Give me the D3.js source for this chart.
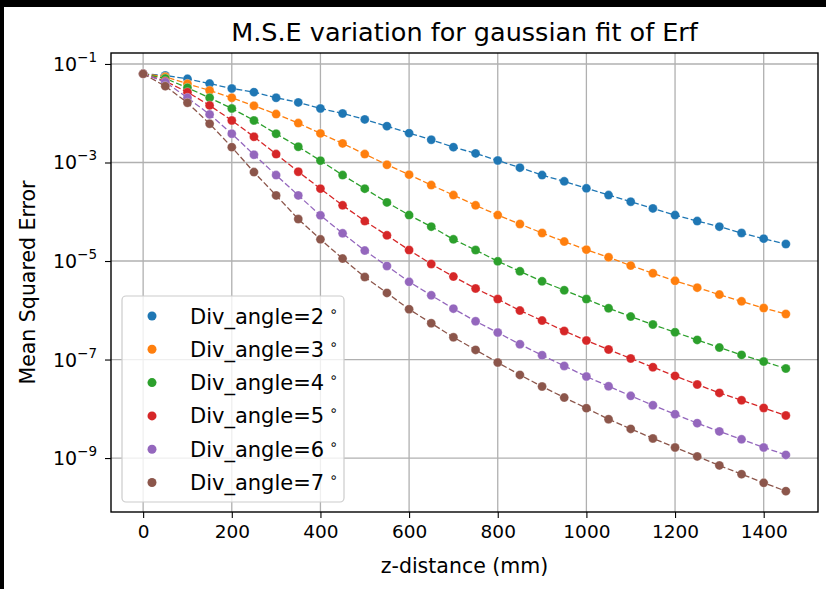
<!DOCTYPE html>
<html>
<head>
<meta charset="utf-8">
<script src="https://cdn.jsdelivr.net/npm/d3@7"></script>
<style>
  body { margin: 0; background: #000; }
  svg { display: block; font-family: "DejaVu Sans", sans-serif; }
</style>
</head>
<body>
<div id="chart"></div>
<script>
var width = 826;
var height = 589;
var margin = { top: 53, bottom: 77, right: 8, left: 111 };

// z positions (mm)
var zDist = [0, 50, 100, 150, 200, 250, 300, 350, 400, 450, 500, 550, 600, 650, 700,
  750, 800, 850, 900, 950, 1000, 1050, 1100, 1150, 1200, 1250, 1300, 1350, 1400, 1450];

// mean squared error, one array per divergence angle
var mse2 = [6.3e-2, 5.85e-2, 5.0e-2, 4.0e-2, 3.18e-2, 2.68e-2, 2.06e-2, 1.66e-2, 1.25e-2, 9.9e-3,
  7.5e-3, 5.47e-3, 3.94e-3, 2.90e-3, 2.05e-3, 1.53e-3, 1.10e-3, 7.85e-4, 5.55e-4, 4.14e-4,
  2.99e-4, 2.18e-4, 1.60e-4, 1.17e-4, 8.57e-5, 6.47e-5, 4.99e-5, 3.70e-5, 2.84e-5, 2.21e-5];
var mse3 = [6.3e-2, 5.5e-2, 3.96e-2, 2.90e-2, 2.06e-2, 1.42e-2, 9.6e-3, 6.3e-3, 3.89e-3, 2.44e-3,
  1.48e-3, 9.0e-4, 5.66e-4, 3.48e-4, 2.18e-4, 1.35e-4, 8.57e-5, 5.64e-5, 3.70e-5, 2.48e-5,
  1.70e-5, 1.19e-5, 8.07e-6, 5.64e-6, 3.96e-6, 2.88e-6, 2.08e-6, 1.52e-6, 1.11e-6, 8.4e-7];
var mse4 = [6.3e-2, 5.08e-2, 3.29e-2, 2.06e-2, 1.25e-2, 7.14e-3, 3.84e-3, 2.09e-3, 1.09e-3, 5.55e-4,
  2.94e-4, 1.55e-4, 8.57e-5, 4.99e-5, 2.75e-5, 1.67e-5, 9.86e-6, 6.18e-6, 3.87e-6, 2.55e-6,
  1.69e-6, 1.10e-6, 7.45e-7, 5.13e-7, 3.58e-7, 2.50e-7, 1.75e-7, 1.24e-7, 9.1e-8, 6.56e-8];
var mse5 = [6.3e-2, 4.48e-2, 2.68e-2, 1.44e-2, 7.14e-3, 3.33e-3, 1.48e-3, 6.5e-4, 2.94e-4, 1.35e-4,
  6.47e-5, 3.32e-5, 1.67e-5, 8.69e-6, 4.83e-6, 2.77e-6, 1.69e-6, 9.86e-7, 6.18e-7, 3.80e-7,
  2.43e-7, 1.60e-7, 1.05e-7, 6.98e-8, 4.65e-8, 3.11e-8, 2.10e-8, 1.49e-8, 1.04e-8, 7.31e-9];
var mse6 = [6.3e-2, 4.28e-2, 2.06e-2, 9.46e-3, 3.84e-3, 1.44e-3, 5.55e-4, 2.15e-4, 8.45e-5, 3.65e-5,
  1.63e-5, 7.93e-6, 3.78e-6, 2.01e-6, 1.08e-6, 5.98e-7, 3.53e-7, 2.04e-7, 1.22e-7, 7.41e-8,
  4.52e-8, 2.87e-8, 1.83e-8, 1.18e-8, 7.76e-9, 5.11e-9, 3.47e-9, 2.40e-9, 1.64e-9, 1.16e-9];
var mse7 = [6.3e-2, 3.55e-2, 1.63e-2, 6.12e-3, 2.05e-3, 6.38e-4, 2.15e-4, 7.11e-5, 2.75e-5, 1.12e-5,
  4.73e-6, 2.25e-6, 1.05e-6, 5.45e-7, 2.83e-7, 1.57e-7, 8.69e-8, 4.88e-8, 2.83e-8, 1.69e-8,
  1.03e-8, 6.15e-9, 3.91e-9, 2.50e-9, 1.64e-9, 1.08e-9, 7.08e-10, 4.71e-10, 3.14e-10, 2.13e-10];

var angles = [2, 3, 4, 5, 6, 7];
var seriesValues = [mse2, mse3, mse4, mse5, mse6, mse7];
var colors = ['#1f77b4', '#ff7f0e', '#2ca02c', '#d62728', '#9467bd', '#8c564b'];

var xTicks = [0, 200, 400, 600, 800, 1000, 1200, 1400];
var yTickExp = [-1, -3, -5, -7, -9];

var svg = d3.select("#chart")
  .append("svg")
  .attr("width", width)
  .attr("height", height);

// black screenshot border, white figure
svg.append("rect").attr("width", width).attr("height", height).attr("fill", "#000");
svg.append("rect").attr("x", 4).attr("y", 7)
  .attr("width", width - 4).attr("height", height - 7).attr("fill", "#fff");

// matplotlib style 5% margins (log space for y)
var xPad = (1450 - 0) * 0.05;
var xScale = d3.scaleLinear()
  .domain([0 - xPad, 1450 + xPad])
  .range([margin.left, width - margin.right]);

var allVals = [].concat.apply([], seriesValues);
var lmin = Math.log10(d3.min(allVals)), lmax = Math.log10(d3.max(allVals));
var lPad = (lmax - lmin) * 0.05;
var yScale = d3.scaleLog()
  .domain([Math.pow(10, lmin - lPad), Math.pow(10, lmax + lPad)])
  .range([height - margin.bottom, margin.top]);

var x0 = margin.left, x1 = width - margin.right;
var y0 = height - margin.bottom, y1 = margin.top;

// grid
var grid = svg.append("g").attr("class", "grid");
grid.selectAll(".vgrid")
  .data(xTicks)
  .enter()
  .append("line")
  .attr("x1", d => xScale(d)).attr("x2", d => xScale(d))
  .attr("y1", y1).attr("y2", y0)
  .attr("stroke", "#b0b0b0").attr("stroke-width", 1.3);
grid.selectAll(".hgrid")
  .data(yTickExp)
  .enter()
  .append("line")
  .attr("x1", x0).attr("x2", x1)
  .attr("y1", d => yScale(Math.pow(10, d))).attr("y2", d => yScale(Math.pow(10, d)))
  .attr("stroke", "#b0b0b0").attr("stroke-width", 1.3);

// axes
var axisx = d3.axisBottom(xScale)
  .tickValues(xTicks)
  .tickFormat(d3.format("d"))
  .tickSize(6)
  .tickPadding(7);
var gx = svg.append("g")
  .attr("transform", "translate(0," + y0 + ")")
  .call(axisx);
gx.select(".domain").remove();
gx.selectAll(".tick line").attr("stroke", "#000").attr("stroke-width", 1.1);
gx.selectAll(".tick text")
  .attr("fill", "#000")
  .attr("font-size", "18.5px")
  .attr("font-family", "DejaVu Sans");

var axisy = d3.axisLeft(yScale)
  .tickValues(yTickExp.map(e => Math.pow(10, e)))
  .tickSize(6)
  .tickFormat("");
var gy = svg.append("g")
  .attr("transform", "translate(" + x0 + ",0)")
  .call(axisy);
gy.select(".domain").remove();
gy.selectAll(".tick line").attr("stroke", "#000").attr("stroke-width", 1.1);

var ylab = svg.append("g").selectAll("text")
  .data(yTickExp)
  .enter()
  .append("text")
  .attr("x", x0 - 14)
  .attr("y", d => yScale(Math.pow(10, d)) + 7)
  .attr("text-anchor", "end")
  .attr("font-size", "19px")
  .attr("fill", "#000");
ylab.append("tspan").text("10");
ylab.append("tspan")
  .attr("dy", -9)
  .attr("font-size", "13.5px")
  .text(d => "\u2212" + Math.abs(d));

// frame
svg.append("rect")
  .attr("x", x0).attr("y", y1)
  .attr("width", x1 - x0).attr("height", y0 - y1)
  .attr("fill", "none")
  .attr("stroke", "#000")
  .attr("stroke-width", 1.4);

// series
var lineGen = d3.line()
  .x((d, i) => xScale(zDist[i]))
  .y(d => yScale(d));

var plot = svg.append("g").attr("class", "series");
seriesValues.forEach(function(vals, k) {
  var g = plot.append("g");
  g.selectAll("circle")
    .data(vals)
    .enter()
    .append("circle")
    .attr("cx", (d, i) => xScale(zDist[i]))
    .attr("cy", d => yScale(d))
    .attr("r", 4.5)
    .attr("fill", colors[k])
    .attr("stroke", "#fff")
    .attr("stroke-opacity", 0.5)
    .attr("stroke-width", 0.6);
  g.append("path")
    .datum(vals)
    .attr("d", lineGen)
    .attr("fill", "none")
    .attr("stroke", colors[k])
    .attr("stroke-width", 1.3)
    .attr("stroke-dasharray", "6,2.6");
});

// legend
var legend = svg.append("g").attr("class", "legend");
legend.append("rect")
  .attr("x", 122).attr("y", 296)
  .attr("width", 222).attr("height", 206)
  .attr("rx", 4)
  .attr("fill", "#fff").attr("fill-opacity", 0.8)
  .attr("stroke", "#cccccc").attr("stroke-width", 1.2);

var items = legend.selectAll(".item")
  .data(angles)
  .enter()
  .append("g")
  .attr("transform", (d, i) => "translate(0," + (316 + i * 33.3) + ")");
items.append("circle")
  .attr("cx", 152).attr("cy", 0).attr("r", 4.5)
  .attr("fill", (d, i) => colors[i]);
var lt = items.append("text")
  .attr("x", 190).attr("y", 7.5)
  .attr("font-size", "21px")
  .attr("fill", "#000");
lt.append("tspan").text(d => "Div_angle=" + d);
lt.append("tspan")
  .attr("dx", 5).attr("dy", -8)
  .attr("font-size", "14px")
  .text("\u2218");

// titles
svg.append("text")
  .attr("x", (x0 + x1) / 2).attr("y", 41)
  .attr("text-anchor", "middle")
  .attr("font-size", "25.5px")
  .attr("fill", "#000")
  .text("M.S.E variation for gaussian fit of Erf");

svg.append("text")
  .attr("x", (x0 + x1) / 2).attr("y", 573)
  .attr("text-anchor", "middle")
  .attr("font-size", "20.5px")
  .attr("fill", "#000")
  .text("z-distance (mm)");

svg.append("text")
  .attr("transform", "translate(35," + ((y0 + y1) / 2) + ") rotate(-90)")
  .attr("text-anchor", "middle")
  .attr("font-size", "20.5px")
  .attr("fill", "#000")
  .text("Mean Squared Error");
</script>
</body>
</html>
